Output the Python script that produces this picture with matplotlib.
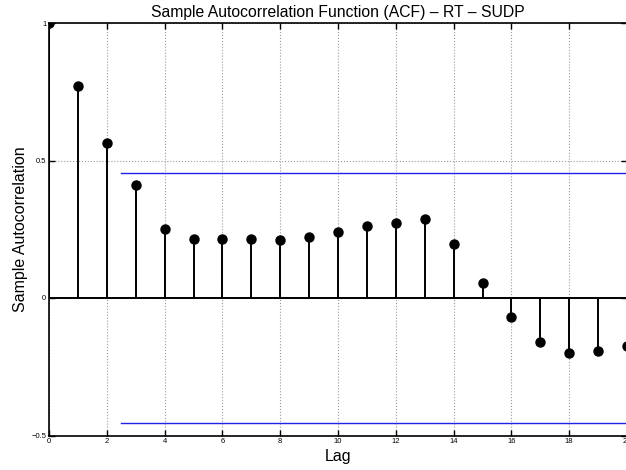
import matplotlib
matplotlib.use("Agg")
import matplotlib.pyplot as plt

plt.rcParams['font.family'] = ['Liberation Sans', 'DejaVu Sans']

# Sample autocorrelation at each lag
lags = list(range(0, 21))
acf = [1.0, 0.771, 0.565, 0.412, 0.251, 0.213, 0.213, 0.213, 0.211, 0.221,
       0.241, 0.263, 0.272, 0.288, 0.196, 0.053, -0.069, -0.160, -0.200,
       -0.193, -0.175]

# Confidence bounds and the lag span they cover
bound = 0.455
bound_span = [2.5, 20]

x_ticks = [0, 2, 4, 6, 8, 10, 12, 14, 16, 18, 20]
y_ticks = [-0.5, 0, 0.5, 1]
y_ticklabels = ['\u22120.5', '0', '0.5', '1']

fig = plt.figure(figsize=(6.26, 4.70), dpi=100)
ax = fig.add_axes([49 / 626, 34.5 / 470, 578 / 626, 412.5 / 470])

markerline, stemlines, baseline = ax.stem(lags, acf, linefmt='k-', markerfmt='ko', basefmt='k-')
plt.setp(stemlines, linewidth=1.4)
plt.setp(markerline, markersize=6.5)
plt.setp(baseline, linewidth=1.4)

ax.plot(bound_span, [bound, bound], color='#2020e8', linewidth=1.0)
ax.plot(bound_span, [-bound, -bound], color='#2020e8', linewidth=1.0)

ax.set_xlim(0, 20)
ax.set_ylim(-0.5, 1)
ax.set_xticks(x_ticks)
ax.set_yticks(y_ticks)
ax.set_yticklabels(y_ticklabels)
ax.tick_params(direction='in', length=4, width=1, labelsize=5.5, pad=2,
               top=True, right=True)
ax.grid(True, linestyle=':', color='#9a9a9a', linewidth=0.8)
ax.set_axisbelow(True)
for s in ax.spines.values():
    s.set_linewidth(1.2)

ax.set_title('Sample Autocorrelation Function (ACF) \u2013 RT \u2013 SUDP', fontsize=11.3, pad=4)
ax.set_xlabel('Lag', fontsize=11.5, labelpad=3)
ax.set_ylabel('Sample Autocorrelation', fontsize=11.5, labelpad=2)

fig.savefig('out.png', dpi=100)
